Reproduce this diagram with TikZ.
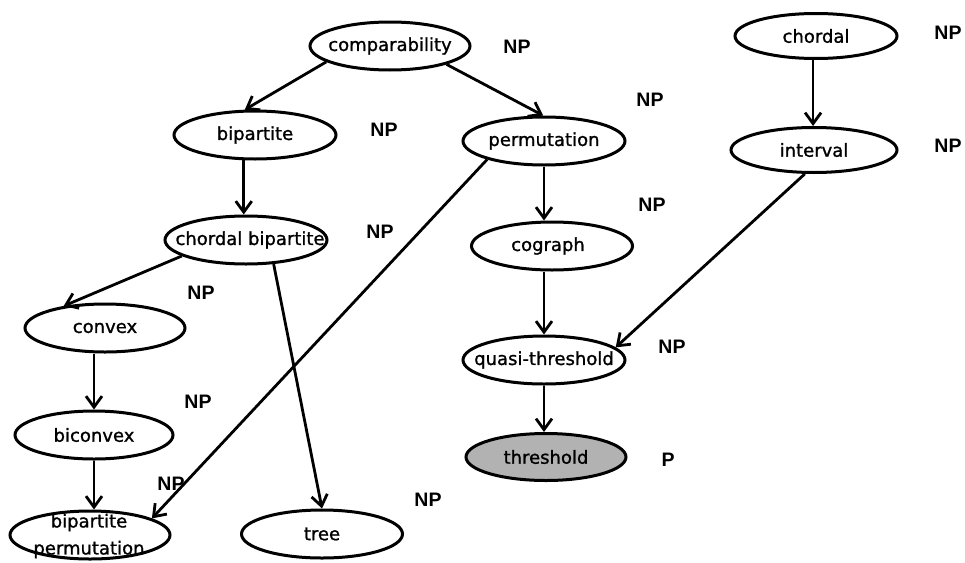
\documentclass[tikz,border=0pt]{standalone}
\usepackage{fontspec}
\setmainfont[FakeBold=1.2]{DejaVu Sans}
\newfontfamily\npfont{Liberation Sans}
\usetikzlibrary{shapes.geometric,arrows.meta}
\begin{document}
\begin{tikzpicture}[x=1pt,y=-1pt,
  ell/.style={draw, ellipse, line width=3pt, inner sep=0pt, minimum width=#1, minimum height=48pt},
  ell/.default=160pt,
  lbl/.style={font=\fontsize{18}{27}\selectfont, inner sep=0pt, align=center},
  np/.style={font=\npfont\bfseries\fontsize{19.5}{19.5}\selectfont, inner sep=0pt},
  arr/.style={line width=2.8pt, -{Straight Barb[length=11pt,width=16pt,line width=2.8pt]}}]
\useasboundingbox (0,0) rectangle (965,562);

% ellipses
\node[ell=160pt] (comp) at (390,46) {};
\node[ell=162pt] (bip) at (255,135) {};
\node[ell=162pt] (cb) at (246,240) {};
\node[ell=162pt] (perm) at (544,141) {};
\node[ell=161pt] (cog) at (552,246) {};
\node[ell=162pt, minimum height=45pt] (chd) at (816,36) {};
\node[ell=166pt, minimum height=45pt] (intv) at (814,150) {};
\node[ell=160pt] (cvx) at (105,328) {};
\node[ell=158pt] (bcx) at (94,435) {};
\node[ell=160pt] (bpp) at (90,535) {};
\node[ell=161pt] (tree) at (322,534) {};
\node[ell=162pt] (qt) at (544,360) {};
\node[ell=160pt, fill=black!30, minimum height=47pt] (thr) at (546,457) {};

% labels
\node[lbl] (tcomp) at (comp) {comparability};
\node[lbl] (tbip) at (bip) {bipartite};
\node[lbl] (tcb) at (250,240) {chordal bipartite};
\node[lbl] (tperm) at (perm) {permutation};
\node[lbl] (tcog) at (548,246) {cograph};
\node[lbl] (tchd) at (chd) {chordal};
\node[lbl] (tintv) at (intv) {interval};
\node[lbl] (tcvx) at (cvx) {convex};
\node[lbl] (tbcx) at (bcx) {biconvex};
\node[lbl] (tbpp) at (89,536) {bipartite\\permutation};
\node[lbl] (ttree) at (tree) {tree};
\node[lbl] (tqt) at (qt) {quasi-threshold};
\node[lbl] (tthr) at (thr) {threshold};

% complexity labels
\node[np] (n1) at (517,47) {NP};
\node[np] (n2) at (650,100) {NP};
\node[np] (n3) at (948,33) {NP};
\node[np] (n4) at (948,146) {NP};
\node[np] (n5) at (384,130) {NP};
\node[np] (n6) at (380,232) {NP};
\node[np] (n7) at (652,205) {NP};
\node[np] (n8) at (201,293) {NP};
\node[np] (n9) at (198,402) {NP};
\node[np] (n10) at (171,484) {NP};
\node[np] (n11) at (428,500) {NP};
\node[np] (n12) at (672,347) {NP};
\node[np] (n13) at (668,460) {P};

% connectors
\draw[arr] (comp.194) -- (bip.112);
\draw[arr] (comp.-18) -- (perm.92);
\draw[arr] (bip.-114) -- (bip.-114 |- cb.north);
\draw[arr] (cb.194) -- (cvx.152);
\draw[arr] (cb.-41) -- (tree.north);
\draw[arr] (perm.198) -- (bpp.15);
\draw[arr] (perm.south) -- (perm.south |- cog.north);
\draw[arr] (chd.-97) -- (chd.-97 |- intv.north);
\draw[arr] (intv.-111) -- (qt.10);
\draw[arr] (qt.north |- cog.south) -- (qt.north);
\draw[arr] (qt.south) -- (qt.south |- thr.north);
\draw[arr] (bcx.north |- cvx.south) -- (bcx.north);
\draw[arr] (bcx.south) -- (bcx.south |- bpp.north);
\end{tikzpicture}
\end{document}
